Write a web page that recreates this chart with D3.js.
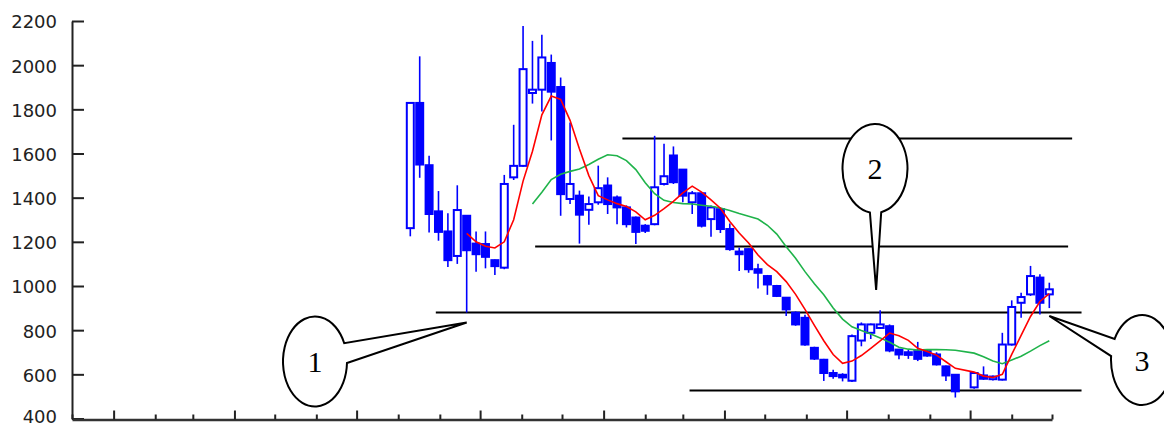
<!DOCTYPE html>
<html><head><meta charset="utf-8">
<script src="https://cdn.jsdelivr.net/npm/d3@7"></script>
<style>body{margin:0;background:#fff;overflow:hidden}</style>
</head><body><svg id="c" width="1164" height="427"></svg>
<script>
// ---------- data ----------
const firstWeek = "2001-08-10";
const domainStart = "2000-12-01";
const domainEnd = "2002-12-01";
const openP = [1262,1829,1547,1338,1247,1136,1318,1192,1190,1117,
  1083,1492,1544,1874,1889,2010,1901,1394,1409,1345,
  1379,1455,1401,1356,1310,1273,1280,1462,1591,1527,
  1379,1420,1303,1348,1258,1156,1167,1076,1045,1000,
  947,879,856,720,666,606,598,571,753,788,
  810,818,712,700,705,705,690,636,598,null,
  541,595,578,576,735,924,962,1038,962];
const closeP = [1829,1550,1326,1245,1117,1344,1162,1144,1132,1090,
  1462,1544,1982,1889,2035,1880,1416,1462,1323,1371,
  1443,1371,1356,1280,1245,1250,1447,1497,1470,1409,
  1420,1273,1356,1258,1167,1144,1076,1060,1007,955,
  894,826,735,671,606,592,586,773,826,826,
  826,708,690,688,670,685,645,595,523,null,
  606,580,590,735,905,950,1045,924,985];
const highP = [1829,2040,1590,1430,1330,1456,1320,1247,1247,1120,
  1503,1730,2177,2110,2138,2048,1944,1740,1432,1405,
  1545,1492,1410,1365,1315,1280,1680,1644,1632,1530,
  1430,1425,1365,1355,1283,1174,1170,1101,1050,1005,
  950,885,870,725,670,621,605,780,835,830,
  890,826,715,712,747,710,700,640,600,null,
  610,636,595,788,935,970,1091,1053,1015];
const lowP = [1225,1490,1242,1205,1086,1100,880,1065,1080,1050,
  1076,1480,1540,1826,1790,1659,1318,1371,1192,1277,
  1368,1326,1280,1265,1190,1240,1275,1455,1462,1379,
  1326,1265,1223,1240,1160,1068,1060,989,960,950,
  864,820,730,665,570,580,568,565,727,760,
  805,700,668,670,660,680,640,570,495,null,
  535,575,572,572,730,856,955,871,900];
const maShort = [null,null,null,null,null,null,1238,1200,1180,1172,
  1200,1300,1475,1610,1775,1860,1845,1750,1620,1500,
  1409,1390,1373,1360,1336,1300,1320,1350,1383,1422,
  1452,1425,1390,1352,1292,1240,1195,1140,1097,1065,
  1020,962,894,822,752,690,650,660,685,718,
  752,787,775,754,718,703,687,657,627,null,
  610,592,586,600,690,776,862,930,965];
const maLong = [null,null,null,null,null,null,null,null,null,null,
  null,null,null,1371,1425,1482,1506,1519,1530,1550,
  1574,1594,1590,1568,1527,1468,1418,1388,1378,1373,
  1371,1366,1361,1353,1342,1328,1316,1303,1275,1235,
  1178,1126,1065,1010,960,900,850,815,798,783,
  765,745,723,714,710,712,712,711,709,null,
  696,680,660,648,665,682,705,730,752];
const yTicks = [400,600,800,1000,1200,1400,1600,1800,2000,2200];
const levelPrice = [1671,1183,883,530];
const levelFrom = ["2002-01-15","2001-11-11","2001-08-29","2002-03-06"];
const levelTo = ["2002-12-16","2002-12-13","2002-12-23","2002-12-23"];
const calloutLabel = ["1","2","3"];
const calloutTipDate = ["2001-09-21","2002-07-23","2002-11-29"];
const calloutTipPrice = [835,982,864];

// ---------- chart ----------
const parse = d3.timeParse("%Y-%m-%d");
const svg = d3.select("#c");
const x = d3.scaleTime().domain([parse(domainStart), parse(domainEnd)]).range([72, 1052]);
const y = d3.scaleLinear().domain([400, 2200]).range([418.5, 21]);

const start = parse(firstWeek);
const candles = openP.map((o, i) => ({
  date: d3.timeDay.offset(start, 7 * i),
  o, c: closeP[i], h: highP[i], l: lowP[i], s: maShort[i], g: maLong[i]
}));
const valid = candles.filter(d => d.o != null);

// horizontal level lines
svg.append("g").selectAll("line").data(levelPrice).join("line")
  .attr("x1", (p, i) => x(parse(levelFrom[i])))
  .attr("x2", (p, i) => x(parse(levelTo[i])))
  .attr("y1", p => Math.round(y(p)) + 0.5)
  .attr("y2", p => Math.round(y(p)) + 0.5)
  .attr("stroke", "#000").attr("stroke-width", 2);

// candles
const blue = "#0000ff";
const cg = svg.append("g");
cg.selectAll("line").data(valid).join("line")
  .attr("x1", d => x(d.date)).attr("x2", d => x(d.date))
  .attr("y1", d => y(d.h)).attr("y2", d => y(d.l))
  .attr("stroke", blue).attr("stroke-width", 1.6);
const bw = 7;
cg.selectAll("rect").data(valid).join("rect")
  .attr("x", d => x(d.date) - bw / 2)
  .attr("y", d => y(Math.max(d.o, d.c)))
  .attr("width", bw)
  .attr("height", d => Math.max(1, Math.abs(y(d.o) - y(d.c))))
  .attr("fill", d => d.c >= d.o ? "#fff" : blue)
  .attr("stroke", blue).attr("stroke-width", 2);

// moving averages
const lineS = d3.line().x(d => x(d.date)).y(d => y(d.s));
const lineG = d3.line().x(d => x(d.date)).y(d => y(d.g));
svg.append("path").datum(candles.filter(d => d.g != null))
  .attr("d", lineG).attr("fill", "none").attr("stroke", "#1fb34a").attr("stroke-width", 1.6);
svg.append("path").datum(candles.filter(d => d.s != null))
  .attr("d", lineS).attr("fill", "none").attr("stroke", "#ff0000").attr("stroke-width", 1.6);

// axes
const yAxis = svg.append("g").attr("transform", "translate(72,0)")
  .call(d3.axisLeft(y).tickValues(yTicks).tickSize(-12).tickSizeOuter(0).tickPadding(15).tickFormat(d3.format("d")));
yAxis.select(".domain").attr("stroke", "#222").attr("stroke-width", 2);
yAxis.selectAll(".tick line").attr("stroke", "#222").attr("stroke-width", 2);
yAxis.selectAll(".tick text").attr("fill", "#222")
  .attr("dy", d => d === 400 ? "0.22em" : "0.38em")
  .style("font-family", "DejaVu Sans, sans-serif").style("font-size", "18px");

const xAxis = svg.append("g").attr("transform", "translate(0,419.5)")
  .call(d3.axisBottom(x).ticks(d3.timeMonth.every(1)).tickSize(-5).tickSizeOuter(0).tickFormat(""));
xAxis.select(".domain").attr("stroke", "#333").attr("stroke-width", 2.5);
xAxis.selectAll(".tick line").attr("stroke", "#222").attr("stroke-width", 2)
  .attr("y2", d => d.getMonth() % 3 === 0 ? -9 : -5);

// callouts
const callouts = [
  {cx: 315, cy: 361.5, rx: 32, ry: 45, a2: 2, a1: -24},
  {cx: 875, cy: 168.5, rx: 32.5, ry: 44.5, a2: 99, a1: 79},
  {cx: 1142, cy: 360, rx: 31, ry: 45, a2: 208, a1: 185}
];
const cgr = svg.append("g");
callouts.forEach((c, i) => {
  const pt = a => [c.cx + c.rx * Math.cos(a * Math.PI / 180), c.cy + c.ry * Math.sin(a * Math.PI / 180)];
  const p2 = pt(c.a2), p1 = pt(c.a1);
  const tx = x(parse(calloutTipDate[i])), ty = y(calloutTipPrice[i]);
  const d = `M${p2[0]},${p2[1]} A${c.rx},${c.ry} 0 1 1 ${p1[0]},${p1[1]} L${tx},${ty} Z`;
  cgr.append("path").attr("d", d).attr("fill", "#fff").attr("stroke", "#000").attr("stroke-width", 2)
    .attr("stroke-linejoin", "miter");
  cgr.append("text").attr("x", c.cx).attr("y", c.cy).attr("dy", "0.35em")
    .attr("text-anchor", "middle").style("font-family", "Liberation Serif, serif").style("font-size", "30px")
    .text(calloutLabel[i]);
});
</script>
</body></html>
